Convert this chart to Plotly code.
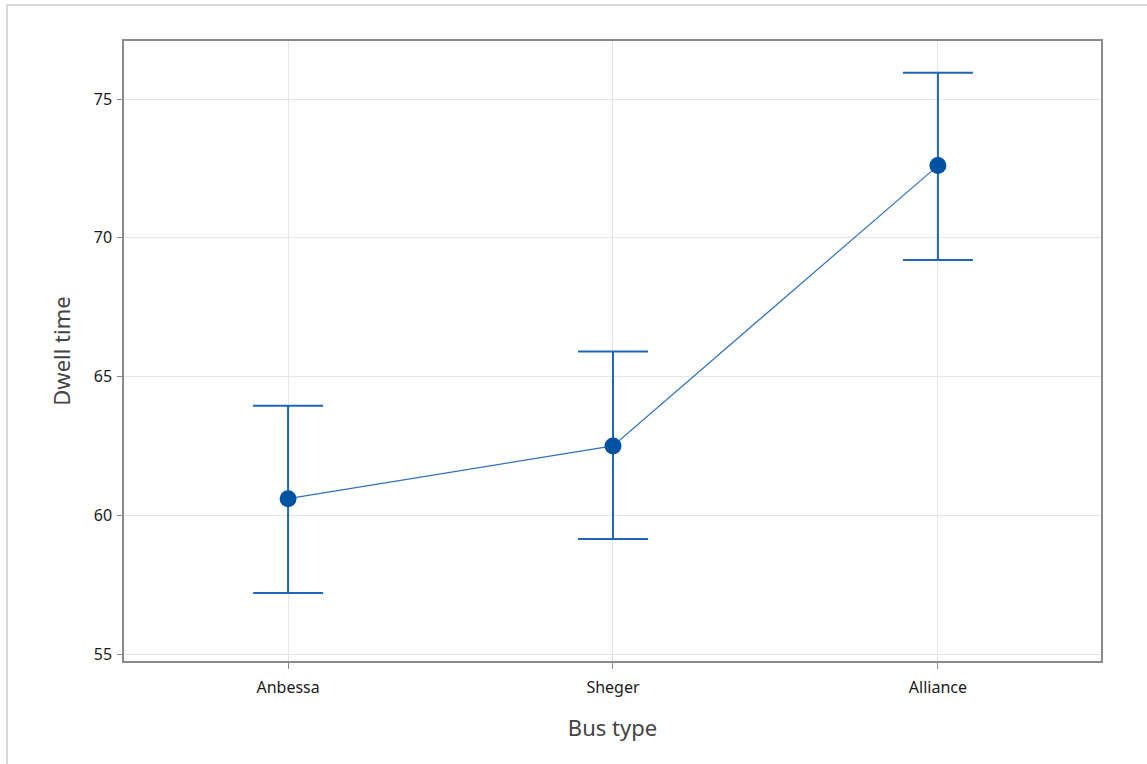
import plotly.graph_objects as go

bus_types = ["Anbessa", "Sheger", "Alliance"]
means = [60.6, 62.5, 72.6]
upper = [63.95, 65.9, 75.95]
lower = [57.2, 59.15, 69.2]

err_plus = [u - m for u, m in zip(upper, means)]
err_minus = [m - l for l, m in zip(lower, means)]

fig = go.Figure()
fig.add_trace(go.Scatter(
    x=[0, 1, 2], y=means, mode="lines+markers",
    line=dict(color="#2f72be", width=1.2),
    marker=dict(color="#0052a3", size=17),
    error_y=dict(type="data", symmetric=False, array=err_plus, arrayminus=err_minus,
                 color="#1f66b8", thickness=2, width=35),
    showlegend=False, hoverinfo="skip",
))

L, R, T, B = 124, 46, 41, 103
W, H = 1147, 764
pw, ph = W - L - R, H - T - B

fig.update_layout(
    width=W, height=H,
    margin=dict(l=L, r=R, t=T, b=B),
    paper_bgcolor="white", plot_bgcolor="white",
    font=dict(family="Noto Sans, Open Sans, sans-serif", color="#222"),
    shapes=[dict(type="rect", xref="paper", yref="paper",
                 x0=(7 - L) / pw, x1=(W + 10 - L) / pw,
                 y0=(H - B - (H + 10)) / ph, y1=(H - B - 5) / ph,
                 line=dict(color="#d9d9d9", width=2), layer="below")],
)
fig.update_xaxes(
    range=[-0.505, 2.502], tickvals=[0, 1, 2], ticktext=bus_types,
    showline=True, mirror=True, linecolor="#8a8a8a", linewidth=1.5,
    showgrid=True, gridcolor="#e6e6e6", gridwidth=1,
    ticks="outside", ticklen=6, tickcolor="#8a8a8a",
    ticklabelstandoff=5,
    tickfont=dict(size=16, color="#1a1a1a"), zeroline=False,
    title=dict(text="Bus type", font=dict(size=22, color="#444"), standoff=24),
)
fig.update_yaxes(
    range=[54.75, 77.09], tickvals=[55, 60, 65, 70, 75],
    showline=True, mirror=True, linecolor="#8a8a8a", linewidth=1.5,
    showgrid=True, gridcolor="#e6e6e6", gridwidth=1,
    ticks="outside", ticklen=5, tickcolor="#8a8a8a",
    ticklabelstandoff=2,
    tickfont=dict(size=16, color="#1a1a1a"), zeroline=False,
    title=dict(text="Dwell time", font=dict(size=22, color="#444"), standoff=17),
)

fig.write_html("out.html")
